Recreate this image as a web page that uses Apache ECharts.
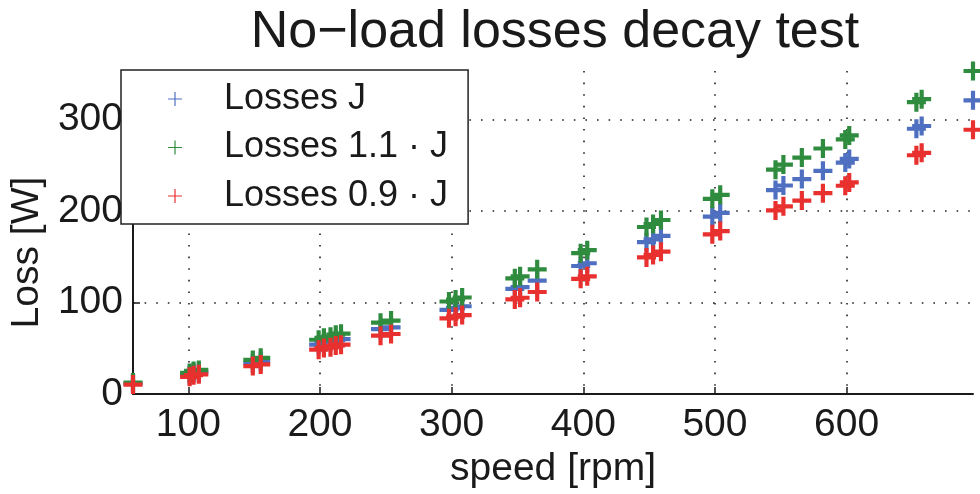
<!DOCTYPE html>
<html>
<head>
<meta charset="utf-8">
<script src="https://cdn.jsdelivr.net/npm/echarts@6/dist/echarts.min.js"></script>
<style>
  html, body { margin: 0; padding: 0; background: #fff; }
  #chart { width: 980px; height: 494px; }
</style>
</head>
<body>
<div id="chart"></div>
<script>
// speed [rpm] of each measured point
const speed = [58, 101, 104, 108, 149, 155, 199, 203, 208, 212, 216, 246, 254, 298, 303, 308,
  348, 352, 365, 398, 403, 448, 453, 459, 498, 504, 546, 552, 566, 582, 599, 602, 653, 657, 696]
// losses [W]
const lossJ = [11.5, 21, 23, 24, 34, 36, 54, 56, 57, 59, 60, 71, 73, 92, 94, 96,
  115, 117, 124, 140, 143, 166, 169, 173, 194, 198, 223, 228, 235, 244, 253, 257, 290, 293, 321]
const loss11J = [12.7, 23.1, 25.3, 26.4, 37.4, 39.6, 59.4, 61.6, 62.7, 64.9, 66, 78.1, 80.3, 101.2, 103.4, 105.6,
  126.5, 128.7, 136.4, 154, 157.3, 182.6, 185.9, 190.3, 213.4, 217.8, 245.3, 250.8, 258.5, 268.4, 278.3, 282.7, 319, 322.3, 353.1]
const loss09J = [10.4, 18.9, 20.7, 21.6, 30.6, 32.4, 48.6, 50.4, 51.3, 53.1, 54, 63.9, 65.7, 82.8, 84.6, 86.4,
  103.5, 105.3, 111.6, 126, 128.7, 149.4, 152.1, 155.7, 174.6, 178.2, 200.7, 205.2, 211.5, 219.6, 227.7, 231.3, 261, 263.7, 288.9]
const seriesNames = ['Losses J', 'Losses 1.1 \u00b7 J', 'Losses 0.9 \u00b7 J']
const xTicks = [100, 200, 300, 400, 500, 600]
const yTicks = [0, 100, 200, 300]

const FONT = '"Liberation Sans", Arial, Helvetica, sans-serif'
const colors = ['#4f6fc0', '#2f8c3f', '#e8302f']
// thick plus for the points, thin plus for the legend
const plusMark = 'path://M3.9 0H6.1V3.9H10V6.1H6.1V10H3.9V6.1H0V3.9H3.9Z'
const plusThin = 'path://M6.4 0H7.6V6.4H14V7.6H7.6V14H6.4V7.6H0V6.4H6.4Z'

const chart = echarts.init(document.getElementById('chart'))

const makeSeries = (name, values, color) => ({
  name: name,
  type: 'scatter',
  symbol: plusMark,
  symbolSize: 19,
  itemStyle: { color: color, opacity: 1 },
  emphasis: { disabled: true },
  data: speed.map((s, i) => [s, values[i]])
})

const axisText = { fontSize: 39, fontFamily: FONT, color: '#1a1a1a' }
const dotted = { color: '#222', width: 1.6, type: [1.6, 10] }

chart.setOption({
  animation: false,
  backgroundColor: '#fff',
  title: {
    text: 'No\u2212load losses decay test',
    left: 550,
    textAlign: 'center',
    top: 2,
    textStyle: { fontSize: 52, fontWeight: 'normal', fontFamily: FONT, color: '#1a1a1a' }
  },
  grid: { left: 123, right: 7, top: 71, bottom: 90, containLabel: false },
  legend: {
    left: 121,
    top: 70,
    orient: 'vertical',
    padding: [9, 20, 8, 47],
    itemGap: 8.5,
    itemWidth: 14,
    itemHeight: 14,
    icon: plusThin,
    backgroundColor: '#fff',
    borderColor: '#222',
    borderWidth: 1.5,
    borderRadius: 0,
    z: 10,
    textStyle: { fontSize: 36, fontFamily: FONT, color: '#1a1a1a', lineHeight: 40, padding: [0, 0, 0, 37] },
    data: seriesNames
  },
  xAxis: {
    type: 'value',
    min: 'dataMin',
    max: 'dataMax',
    name: 'speed [rpm]',
    nameLocation: 'middle',
    nameGap: 48,
    nameTextStyle: axisText,
    axisLine: { show: true, onZero: false, lineStyle: { color: '#1a1a1a', width: 2 } },
    axisTick: { show: true, inside: true, length: 7, customValues: xTicks, lineStyle: { color: '#1a1a1a', width: 1.5 } },
    axisLabel: { customValues: xTicks, margin: 12, ...axisText },
    splitLine: { show: true, lineStyle: dotted }
  },
  yAxis: {
    type: 'value',
    min: 0,
    max: 'dataMax',
    name: 'Loss [W]',
    nameLocation: 'middle',
    nameRotate: 90,
    nameGap: 86,
    nameTextStyle: { ...axisText, padding: [0, 40, 0, 0] },
    axisLine: { show: true, onZero: false, lineStyle: { color: '#1a1a1a', width: 2 } },
    axisTick: { show: true, inside: true, length: 7, customValues: yTicks, lineStyle: { color: '#1a1a1a', width: 1.5 } },
    axisLabel: { customValues: yTicks, margin: 10, ...axisText },
    splitLine: { show: true, lineStyle: dotted }
  },
  series: [
    makeSeries(seriesNames[0], lossJ, colors[0]),
    makeSeries(seriesNames[1], loss11J, colors[1]),
    makeSeries(seriesNames[2], loss09J, colors[2])
  ]
})
</script>
</body>
</html>
